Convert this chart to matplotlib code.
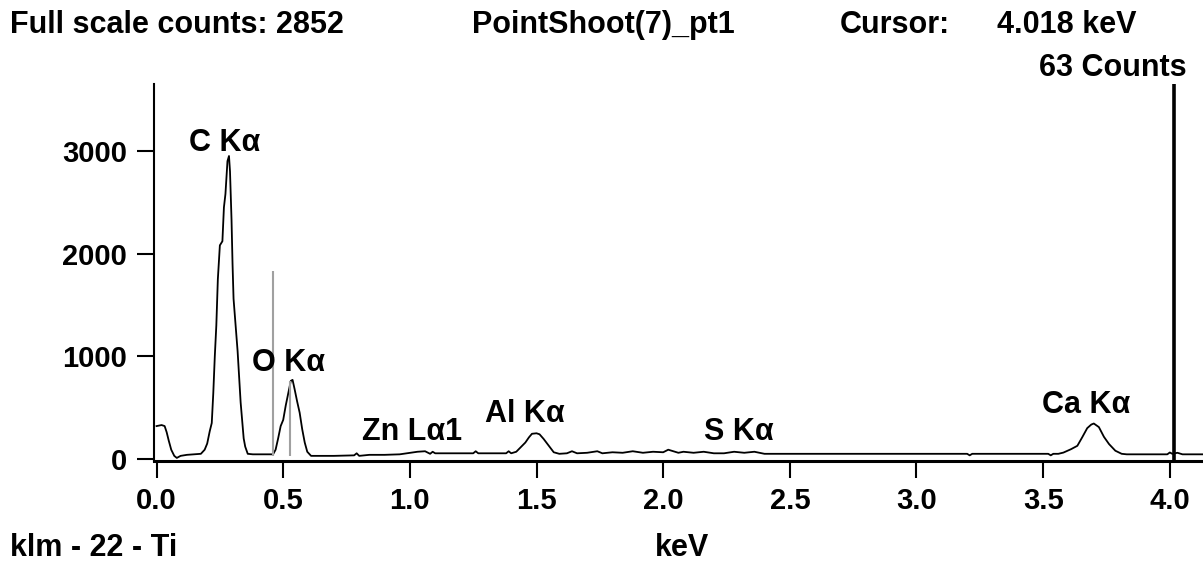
import matplotlib
matplotlib.use("Agg")
import matplotlib.pyplot as plt
import numpy as np


# ==================================================
# DATA
# ==================================================

energy_kev = [
    0.000, 0.020, 0.032, 0.040, 0.048, 0.058, 0.070, 0.080, 0.095, 0.120,
    0.150, 0.175, 0.190, 0.200, 0.210, 0.218, 0.224, 0.230, 0.236, 0.242,
    0.250, 0.260, 0.266, 0.272, 0.280, 0.286, 0.290, 0.296, 0.300, 0.304,
    0.312, 0.320, 0.326, 0.332, 0.337, 0.344, 0.350, 0.360, 0.380, 0.420,
    0.460, 0.470, 0.480, 0.490, 0.500, 0.510, 0.520, 0.530, 0.537, 0.545,
    0.555, 0.565, 0.575, 0.585, 0.595, 0.610, 0.650, 0.700, 0.780, 0.790,
    0.800, 0.840, 0.900, 0.960, 1.030, 1.060, 1.080, 1.090, 1.100, 1.150,
    1.200, 1.250, 1.260, 1.270, 1.330, 1.380, 1.390, 1.400, 1.420, 1.436,
    1.456, 1.470, 1.482, 1.500, 1.512, 1.528, 1.548, 1.568, 1.590, 1.620,
    1.640, 1.660, 1.700, 1.740, 1.760, 1.800, 1.840, 1.880, 1.920, 1.960,
    2.000, 2.020, 2.060, 2.080, 2.120, 2.160, 2.200, 2.240, 2.280, 2.320,
    2.360, 2.400, 2.600, 2.800, 3.000, 3.200, 3.210, 3.220, 3.400, 3.520,
    3.530, 3.540, 3.560, 3.580, 3.610, 3.635, 3.654, 3.674, 3.690, 3.700,
    3.720, 3.740, 3.760, 3.785, 3.810, 3.830, 3.900, 3.990, 4.000, 4.010,
    4.030, 4.050, 4.130,
]

counts = [
    320, 330, 320, 260, 180, 90, 30, 10, 30, 40,
    45, 50, 90, 150, 270, 350, 640, 1000, 1300, 1750,
    2080, 2120, 2450, 2580, 2900, 2950, 2800, 2330, 1900, 1560,
    1300, 1050, 800, 550, 400, 200, 120, 50, 45, 45,
    45, 90, 200, 320, 380, 520, 640, 760, 770, 680,
    560, 450, 290, 160, 70, 30, 30, 30, 35, 55,
    30, 40, 40, 45, 70, 75, 50, 70, 55, 55,
    55, 55, 75, 55, 55, 55, 75, 55, 70, 110,
    160, 210, 245, 250, 240, 195, 130, 65, 50, 55,
    75, 55, 60, 75, 55, 65, 60, 75, 60, 70,
    65, 90, 60, 70, 60, 70, 55, 55, 70, 60,
    70, 50, 50, 50, 50, 50, 35, 50, 50, 50,
    35, 50, 50, 62, 95, 128, 210, 300, 335, 345,
    310, 215, 145, 80, 50, 45, 45, 45, 63, 50,
    60, 45, 45,
]

x_ticks = [0.0, 0.5, 1.0, 1.5, 2.0, 2.5, 3.0, 3.5, 4.0]
y_ticks = [0, 1000, 2000, 3000]

peak_labels = ["C K\u03b1", "O K\u03b1", "Zn L\u03b11", "Al K\u03b1", "S K\u03b1", "Ca K\u03b1"]
peak_label_x = [0.27, 0.52, 1.01, 1.455, 2.30, 3.67]
peak_label_y = [3077, 935, 260, 440, 260, 530]

marker_kev = [0.461, 0.525]
marker_top = [1830, 760]

cursor_kev = 4.018
cursor_counts = 63
full_scale = 2852


# ==================================================
# FIGURE
# ==================================================

W, H = 1203, 566
FONT = ["Liberation Sans", "DejaVu Sans"]
FS = 22
FS_TICK = 21

fig = plt.figure(figsize=(W / 100, H / 100), dpi=100)
fig.patch.set_facecolor("white")

ax = fig.add_axes([153.5 / W, 105 / H, (W - 153.5) / W, 377 / H])

ax.plot(energy_kev, counts, color="black", linewidth=1.3)

ax.vlines(marker_kev, 30, marker_top, color="#a0a0a0", linewidth=1.5)
ax.vlines(cursor_kev, -20, 3651, color="black", linewidth=2.6)

ax.set_xlim(-0.012, 4.131)
ax.set_ylim(-20, 3651)

for side in ["top", "right"]:
    ax.spines[side].set_visible(False)
ax.spines["left"].set_linewidth(1.5)
ax.spines["bottom"].set_linewidth(2.2)

ax.set_xticks(x_ticks)
ax.set_xticklabels([f"{t:.1f}" for t in x_ticks])
ax.set_yticks(y_ticks)
ax.set_yticklabels([str(t) for t in y_ticks])
ax.tick_params(axis="both", direction="out", length=12, width=1.5,
               color="black", pad=7)
for lab in ax.get_xticklabels() + ax.get_yticklabels():
    lab.set_family(FONT)
    lab.set_fontweight("bold")
    lab.set_fontsize(FS_TICK)

for text, x, y in zip(peak_labels, peak_label_x, peak_label_y):
    ax.text(x, y, text, ha="center", va="center", fontsize=FS,
            fontweight="bold", family=FONT)


def ftext(px, py, s, ha="left"):
    fig.text(px / W, 1 - py / H, s, ha=ha, va="center", fontsize=FS,
             fontweight="bold", family=FONT)


ftext(10, 25, f"Full scale counts: {full_scale}")
ftext(472, 25, "PointShoot(7)_pt1")
ftext(840, 25, "Cursor:")
ftext(997, 25, f"{cursor_kev:.3f} keV")
ftext(1187, 68, f"{cursor_counts} Counts", ha="right")
ftext(10, 548, "klm - 22 - Ti")
ftext(682, 548, "keV", ha="center")

fig.savefig("out.png", dpi=100)
